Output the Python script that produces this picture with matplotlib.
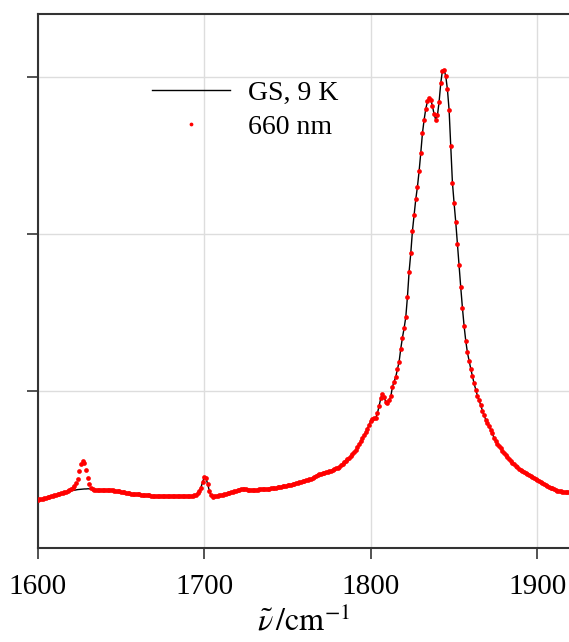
import numpy as np
import matplotlib
matplotlib.use("Agg")
import matplotlib.pyplot as plt

plt.rcParams['font.family'] = ['Liberation Serif', 'DejaVu Serif']
plt.rcParams['mathtext.fontset'] = 'stix'

# wavenumber grid (cm^-1), one point per cm^-1 from 1600 to 1919
wavenumber = np.arange(1600, 1920)

# 660 nm pumped spectrum (arb. units)
pump_660 = [
    0.306, 0.309, 0.312, 0.315, 0.318, 0.321, 0.324, 0.327, 0.330, 0.333,  # 1600
    0.336, 0.339, 0.342, 0.345, 0.348, 0.350, 0.354, 0.358, 0.362, 0.367,  # 1610
    0.373, 0.380, 0.392, 0.412, 0.442, 0.490, 0.538, 0.556, 0.540, 0.495,  # 1620
    0.445, 0.405, 0.382, 0.375, 0.372, 0.371, 0.370, 0.370, 0.370, 0.370,  # 1630
    0.370, 0.370, 0.369, 0.369, 0.368, 0.367, 0.366, 0.365, 0.363, 0.361,  # 1640
    0.359, 0.357, 0.355, 0.353, 0.351, 0.349, 0.347, 0.345, 0.344, 0.343,  # 1650
    0.342, 0.341, 0.340, 0.339, 0.338, 0.337, 0.336, 0.335, 0.334, 0.333,  # 1660
    0.332, 0.331, 0.331, 0.330, 0.330, 0.329, 0.329, 0.329, 0.328, 0.328,  # 1670
    0.328, 0.328, 0.328, 0.328, 0.328, 0.328, 0.328, 0.328, 0.328, 0.328,  # 1680
    0.328, 0.329, 0.330, 0.332, 0.335, 0.340, 0.348, 0.362, 0.385, 0.420,  # 1690
    0.450, 0.445, 0.410, 0.365, 0.335, 0.326, 0.328, 0.331, 0.334, 0.336,  # 1700
    0.338, 0.340, 0.342, 0.345, 0.348, 0.352, 0.355, 0.358, 0.361, 0.364,  # 1710
    0.367, 0.371, 0.375, 0.376, 0.375, 0.373, 0.371, 0.369, 0.369, 0.370,  # 1720
    0.371, 0.371, 0.372, 0.373, 0.374, 0.375, 0.376, 0.376, 0.377, 0.378,  # 1730
    0.379, 0.380, 0.382, 0.384, 0.386, 0.388, 0.390, 0.392, 0.394, 0.396,  # 1740
    0.398, 0.401, 0.404, 0.407, 0.410, 0.413, 0.416, 0.419, 0.422, 0.425,  # 1750
    0.428, 0.431, 0.434, 0.437, 0.440, 0.444, 0.451, 0.459, 0.466, 0.471,  # 1760
    0.474, 0.477, 0.480, 0.483, 0.486, 0.489, 0.493, 0.497, 0.502, 0.507,  # 1770
    0.512, 0.518, 0.527, 0.536, 0.546, 0.556, 0.566, 0.576, 0.587, 0.598,  # 1780
    0.610, 0.623, 0.640, 0.660, 0.680, 0.700, 0.720, 0.738, 0.760, 0.785,  # 1790
    0.808, 0.820, 0.826, 0.830, 0.860, 0.905, 0.955, 0.982, 0.960, 0.930,  # 1800
    0.922, 0.940, 0.965, 1.027, 1.060, 1.091, 1.140, 1.187, 1.270, 1.340,  # 1810
    1.400, 1.470, 1.600, 1.760, 1.877, 2.020, 2.121, 2.221, 2.300, 2.400,  # 1820
    2.515, 2.641, 2.726, 2.796, 2.843, 2.864, 2.854, 2.815, 2.762, 2.726,  # 1830
    2.755, 2.840, 2.960, 3.040, 3.045, 3.005, 2.920, 2.790, 2.560, 2.327,  # 1840
    2.196, 2.075, 1.935, 1.800, 1.660, 1.530, 1.415, 1.320, 1.245, 1.193,  # 1850
    1.142, 1.095, 1.048, 1.008, 0.970, 0.940, 0.910, 0.875, 0.845, 0.818,  # 1860
    0.796, 0.776, 0.752, 0.730, 0.700, 0.680, 0.662, 0.648, 0.634, 0.620,  # 1870
    0.606, 0.593, 0.580, 0.568, 0.555, 0.544, 0.534, 0.524, 0.514, 0.506,  # 1880
    0.498, 0.490, 0.483, 0.477, 0.471, 0.465, 0.459, 0.452, 0.446, 0.440,  # 1890
    0.434, 0.427, 0.420, 0.414, 0.408, 0.402, 0.396, 0.390, 0.385, 0.380,  # 1900
    0.375, 0.370, 0.366, 0.363, 0.361, 0.359, 0.358, 0.357, 0.356, 0.355,  # 1910
]

# ground state spectrum differs only around 1616-1634 cm^-1 (no 1627 band)
gs_start = 1616
gs_segment = [
    0.351, 0.354, 0.357, 0.361, 0.364, 0.366, 0.368, 0.370, 0.372, 0.373,
    0.374, 0.375, 0.376, 0.376, 0.377, 0.377, 0.376, 0.375, 0.372,
]
gs_9k = list(pump_660)
i0 = gs_start - 1600
gs_9k[i0:i0 + len(gs_segment)] = gs_segment

xticks = [1600, 1700, 1800, 1900]
yticks = [1, 2, 3]

fig = plt.figure(figsize=(5.69, 6.42), dpi=100, facecolor='white')
ax = fig.add_axes([0.0663, 0.1464, 0.9337, 0.8318])

ax.plot(wavenumber, gs_9k, color='black', linewidth=1.0, label='GS, 9 K', zorder=3)
ax.plot(wavenumber, pump_660, linestyle='none', marker='o', markersize=3.4,
        markeredgewidth=0, color='red', label='660 nm', zorder=4)

ax.set_xlim(1600, 1919)
ax.set_ylim(0, 3.4)
ax.set_xticks(xticks)
ax.set_yticks(yticks)
ax.set_yticklabels([])
ax.grid(True, color='#dddddd', linewidth=1.0, zorder=0)
ax.set_axisbelow(True)

for side in ['left', 'bottom', 'top']:
    ax.spines[side].set_color('#333333')
    ax.spines[side].set_linewidth(1.5)
ax.spines['right'].set_visible(False)
ax.tick_params(axis='both', direction='out', length=8, width=1.3, color='#444444',
               labelsize=21, pad=11)

ax.set_xlabel(r'$\tilde{\nu}\,/\mathrm{cm}^{-1}$', fontsize=23, labelpad=4)

leg = ax.legend(loc='upper left', bbox_to_anchor=(0.215, 0.875), frameon=False,
                fontsize=20, handlelength=2.8, handletextpad=0.65,
                labelspacing=0.3, borderaxespad=0, borderpad=0, markerscale=0.8)

fig.savefig('out.png', dpi=100, facecolor='white')
